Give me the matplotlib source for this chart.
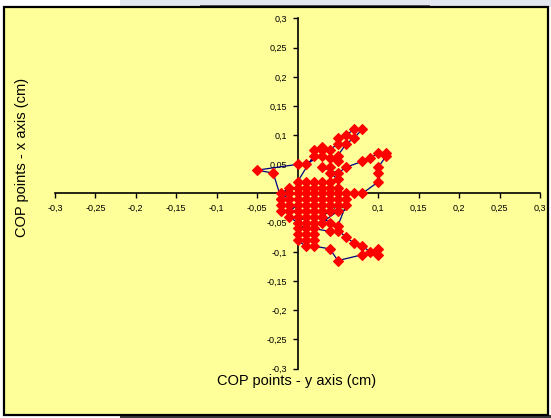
import matplotlib
matplotlib.use("Agg")
import matplotlib.pyplot as plt
from matplotlib.patches import Rectangle

plt.rcParams['font.family'] = ['Liberation Sans', 'DejaVu Sans']

# COP trajectory: horizontal = y axis (cm), vertical = x axis (cm)
cop_y = [
    0.01, 0.00, 0.00, -0.01, -0.02, -0.01, -0.01, -0.02, -0.02, -0.01, 0.00, 0.01, 0.01, 0.00, 0.00, -0.01,
    0.00, 0.01, 0.02, 0.02, 0.03, 0.03, 0.02, 0.02, 0.03, 0.04, 0.04, 0.05, 0.05, 0.05, 0.04, 0.03, 0.02,
    0.01, 0.01, 0.00, -0.01, -0.02, -0.02,
    -0.03, -0.05, 0.00, 0.01, 0.03, 0.03, 0.02, 0.03, 0.04, 0.05, 0.05, 0.06, 0.07, 0.08, 0.07, 0.06,
    0.05, 0.05, 0.04, 0.02,
    0.00, 0.01, 0.02, 0.02, 0.03, 0.03, 0.04, 0.04, 0.05, 0.05, 0.04, 0.04, 0.03, 0.05, 0.06, 0.08,
    0.09, 0.10, 0.11, 0.11, 0.10, 0.10, 0.10, 0.08, 0.07, 0.06, 0.06, 0.06,
    0.05, 0.05, 0.04, 0.02, 0.01, 0.01, 0.02, 0.00, 0.00, 0.01, 0.02, 0.02, 0.01, 0.00, 0.01, 0.02,
    0.04, 0.05, 0.08, 0.10, 0.10, 0.09, 0.08, 0.07, 0.06, 0.04, 0.03, 0.04, 0.05, 0.03,
]
cop_x = [
    -0.01, -0.01, 0.00, 0.00, -0.01, -0.01, -0.02, -0.02, -0.03, -0.03, -0.02, -0.02, -0.03, -0.03, -0.04, -0.04,
    -0.05, -0.04, -0.04, -0.03, -0.03, -0.02, -0.02, -0.01, -0.01, -0.01, -0.02, -0.02, -0.01, 0.00, 0.00, 0.00, 0.00,
    0.00, 0.01, 0.01, 0.01, 0.00, -0.01,
    0.035, 0.04, 0.05, 0.05, 0.065, 0.08, 0.075, 0.075, 0.075, 0.085, 0.095, 0.10, 0.11, 0.11, 0.095, 0.085,
    0.065, 0.055, 0.06, 0.065,
    0.02, 0.02, 0.02, 0.01, 0.01, 0.02, 0.02, 0.01, 0.01, 0.025, 0.035, 0.045, 0.045, 0.035, 0.045, 0.055,
    0.06, 0.07, 0.07, 0.065, 0.045, 0.035, 0.02, 0.00, 0.00, 0.00, -0.01, -0.02,
    -0.055, -0.065, -0.065, -0.06, -0.06, -0.05, -0.05, -0.06, -0.07, -0.07, -0.07, -0.08, -0.08, -0.08, -0.09, -0.09,
    -0.095, -0.115, -0.105, -0.105, -0.095, -0.10, -0.09, -0.085, -0.075, -0.05, -0.04, -0.03, -0.03, -0.05,
]

ticks = [-0.3, -0.25, -0.2, -0.15, -0.1, -0.05, 0.0, 0.05, 0.1, 0.15, 0.2, 0.25, 0.3]
tick_labels = ["-0,3", "-0,25", "-0,2", "-0,15", "-0,1", "-0,05", "0",
               "0,05", "0,1", "0,15", "0,2", "0,25", "0,3"]

W, H = 551, 418
fig = plt.figure(figsize=(W / 100, H / 100), dpi=100)
fig.patch.set_facecolor("white")

# page strips around the chart frame
fig.patches.append(Rectangle((120 / W, 1 - 7 / H), 431 / W, 7 / H, transform=fig.transFigure,
                             facecolor="#e3e6ee", edgecolor="none", zorder=0))
fig.patches.append(Rectangle((200 / W, 1 - 6 / H), 230 / W, 1.5 / H, transform=fig.transFigure,
                             facecolor="#5a5a5a", edgecolor="none", zorder=0))
fig.patches.append(Rectangle((120 / W, 0), 431 / W, 3 / H, transform=fig.transFigure,
                             facecolor="#3a3a3a", edgecolor="none", zorder=0))
# chart area
fig.patches.append(Rectangle((4 / W, 1 - 415 / H), 544 / W, 408 / H, transform=fig.transFigure,
                             facecolor="#ffff99", edgecolor="black", linewidth=1.6, zorder=1))

ax = fig.add_axes([55 / W, 1 - 368.5 / H, 485 / W, 350 / H])
ax.set_zorder(2)
ax.set_facecolor("none")
ax.set_xlim(-0.3, 0.3)
ax.set_ylim(-0.3, 0.3)

for s in ("top", "right"):
    ax.spines[s].set_visible(False)
ax.spines["left"].set_position(("data", 0))
ax.spines["bottom"].set_position(("data", 0))
ax.spines["left"].set_linewidth(1.2)
ax.spines["bottom"].set_linewidth(1.2)

ax.set_xticks(ticks)
ax.set_xticklabels(tick_labels)
ax.set_yticks(ticks)
ax.set_yticklabels(tick_labels)
ax.tick_params(axis="both", direction="out", length=3.5, width=1.0, labelsize=6.5, pad=4)

ax.plot(cop_y, cop_x, color="#000080", linewidth=0.9, marker="D", markersize=5,
        markerfacecolor="#ff0000", markeredgecolor="#ff0000", markeredgewidth=0.8, zorder=3,
        clip_on=False)

fig.text(297 / W, 1 - 381 / H, "COP points - y axis (cm)", ha="center", va="center", fontsize=10.5)
fig.text(22 / W, 1 - 157 / H, "COP points - x axis (cm)", ha="center", va="center", fontsize=10.5,
         rotation=90)

fig.savefig("out.png", dpi=100)
